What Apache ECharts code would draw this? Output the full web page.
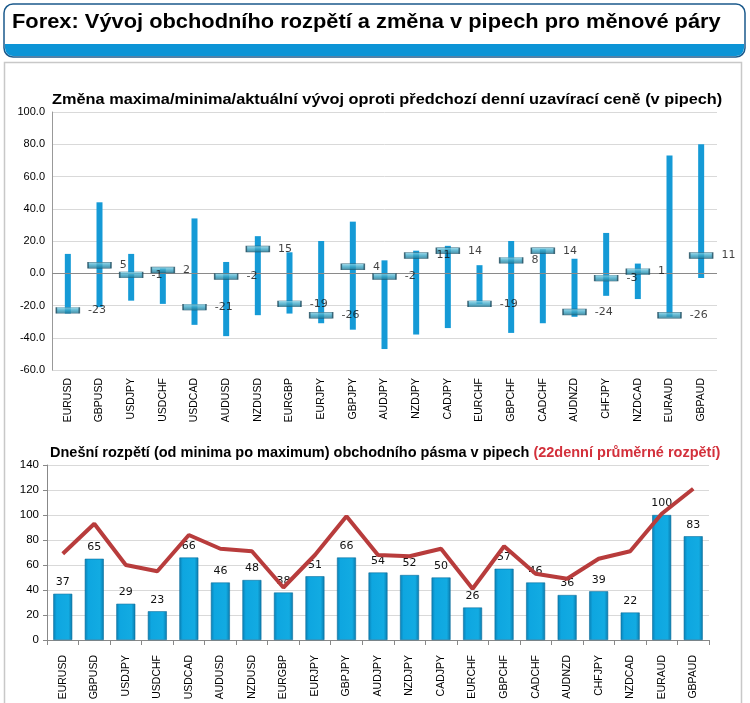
<!DOCTYPE html>
<html>
<head>
<meta charset="utf-8">
<script src="https://cdn.jsdelivr.net/npm/echarts@6/dist/echarts.min.js"></script>
<style>
html,body{margin:0;padding:0;background:#fff;}
#c{width:750px;height:703px;}
</style>
</head>
<body>
<div id="c"></div>
<script>
const categories = ['EURUSD','GBPUSD','USDJPY','USDCHF','USDCAD','AUDUSD','NZDUSD','EURGBP','EURJPY','GBPJPY','AUDJPY','NZDJPY','CADJPY','EURCHF','GBPCHF','CADCHF','AUDNZD','CHFJPY','NZDCAD','EURAUD','GBPAUD'];
const maxChange = [12,44,12,3,34,7,23,13,20,32,8,14,17,5,20,15,9,25,6,73,80];
const minChange = [-25,-21,-17,-19,-32,-39,-26,-25,-31,-35,-47,-38,-34,-19,-37,-31,-27,-14,-16,-27,-3];
const currentChange = [-23,5,-1,2,-21,-2,15,-19,-26,4,-2,11,14,-19,8,14,-24,-3,1,-26,11];
const todayRange = [37,65,29,23,66,46,48,38,51,66,54,52,50,26,57,46,36,39,22,100,83];
const avgRange22 = [69,93,60,55,84,73,71,42,68,99,68,67,73,41,75,53,49,65,71,101,121];
const topTicks = {min:-60, max:100, interval:20};
const bottomTicks = {min:0, max:140, interval:20};

const chart = echarts.init(document.getElementById('c'), null, {renderer:'canvas'});
const axisFont = 'Liberation Sans, Arial, sans-serif';

const option = {
  animation:false,
  backgroundColor:'#fff',
  graphic:[
    {type:'rect', shape:{x:4.5,y:62.5,width:737,height:650}, style:{fill:'#fff', stroke:'#c8c8c8', lineWidth:1.5}, z:-10},
    {type:'rect', shape:{x:4,y:4,width:741,height:53,r:9}, style:{fill:'#fff', stroke:'#1b5a8c', lineWidth:1.5}, z:-5},
    {type:'rect', shape:{x:5,y:44,width:739,height:12,r:[0,0,8,8]}, style:{fill:'#0c94d6'}, z:-4},
    {type:'text', x:12, y:12, scaleX:1.04, style:{text:'Forex: Vývoj obchodního rozpětí a změna v pipech pro měnové páry', font:'bold 21px Liberation Sans, Arial, sans-serif', fill:'#000'}},
    {type:'text', x:52, y:92, scaleX:1.088, style:{text:'Změna maxima/minima/aktuální vývoj oproti předchozí denní uzavírací ceně (v pipech)', font:'bold 15px Liberation Sans, Arial, sans-serif', fill:'#000'}},
    {type:'text', x:50, y:445, style:{
      text:'{a|Dnešní rozpětí (od minima po maximum) obchodního pásma v pipech }{b|(22denní průměrné rozpětí)}',
      rich:{
        a:{font:'bold 14.5px Liberation Sans, Arial, sans-serif', fill:'#000'},
        b:{font:'bold 14.5px Liberation Sans, Arial, sans-serif', fill:'#d3303b'}}}}
  ],
  grid:[
    {left:52, right:33, top:112, bottom:333},
    {left:47, right:41, top:465, bottom:63}
  ],
  xAxis:[
    {type:'category', gridIndex:0, data:categories, axisLine:{show:false}, axisTick:{show:false},
     axisLabel:{rotate:90, fontSize:10.5, fontFamily:axisFont, color:'#000', margin:8}},
    {type:'category', gridIndex:1, data:categories,
     axisLine:{show:true, lineStyle:{color:'#888'}}, axisTick:{show:true, length:5, lineStyle:{color:'#888'}},
     axisLabel:{rotate:90, fontSize:10.5, fontFamily:axisFont, color:'#000', margin:15}}
  ],
  yAxis:[
    {type:'value', gridIndex:0, min:topTicks.min, max:topTicks.max, interval:topTicks.interval,
     axisLine:{show:true, lineStyle:{color:'#999'}}, axisTick:{show:false},
     axisLabel:{formatter:v=>v.toFixed(1), fontSize:11, fontFamily:axisFont, color:'#000', margin:7},
     splitLine:{lineStyle:{color:'#d9d9d9'}}},
    {type:'value', gridIndex:1, min:bottomTicks.min, max:bottomTicks.max, interval:bottomTicks.interval,
     axisLine:{show:true, lineStyle:{color:'#888'}}, axisTick:{show:true, length:4, lineStyle:{color:'#888'}},
     axisLabel:{fontSize:11.5, fontFamily:axisFont, color:'#000', margin:8},
     splitLine:{lineStyle:{color:'#d9d9d9'}}}
  ],
  series:[
    {type:'custom', xAxisIndex:0, yAxisIndex:0,
     data:categories.map((c,i)=>[i, minChange[i], maxChange[i]]),
     renderItem:function(params, api){
       const lo = api.coord([api.value(0), api.value(1)]);
       const hi = api.coord([api.value(0), api.value(2)]);
       return {type:'rect', shape:{x:lo[0]-3, y:hi[1], width:6, height:lo[1]-hi[1]}, style:{fill:'#159ad6'}};
     },
     markLine:{silent:true, symbol:'none', label:{show:false}, lineStyle:{color:'#8a8a8a', type:'solid', width:1.2}, data:[{yAxis:0}]},
     z:2},
    {type:'scatter', xAxisIndex:0, yAxisIndex:0, data:currentChange,
     symbol:'rect', symbolSize:[23,6],
     itemStyle:{color:new echarts.graphic.LinearGradient(0,0,0,1,[{offset:0,color:'#8fd3e6'},{offset:0.5,color:'#3aa6c6'},{offset:1,color:'#1f6f8a'}]),
                borderColor:'#1d4a5c', borderWidth:0.8},
     label:{show:true, position:'right', distance:8, fontSize:11, fontFamily:'DejaVu Sans, Verdana, sans-serif', color:'#111'},
     z:5},
    {type:'bar', xAxisIndex:1, yAxisIndex:1, data:todayRange, barWidth:19,
     itemStyle:{color:new echarts.graphic.LinearGradient(0,0,1,0,[{offset:0,color:'#0a7fb4'},{offset:0.18,color:'#0ea6e0'},{offset:0.8,color:'#12abe2'},{offset:1,color:'#0a7aad'}]),
                borderColor:'#0d6f9c', borderWidth:0.6},
     label:{show:true, position:'top', distance:6, fontSize:11, fontFamily:'DejaVu Sans, Verdana, sans-serif', color:'#111'},
     z:2},
    {type:'line', xAxisIndex:1, yAxisIndex:1, data:avgRange22, symbol:'none',
     lineStyle:{color:'#b83c3c', width:4}, z:4}
  ]
};
chart.setOption(option);
</script>
</body>
</html>
